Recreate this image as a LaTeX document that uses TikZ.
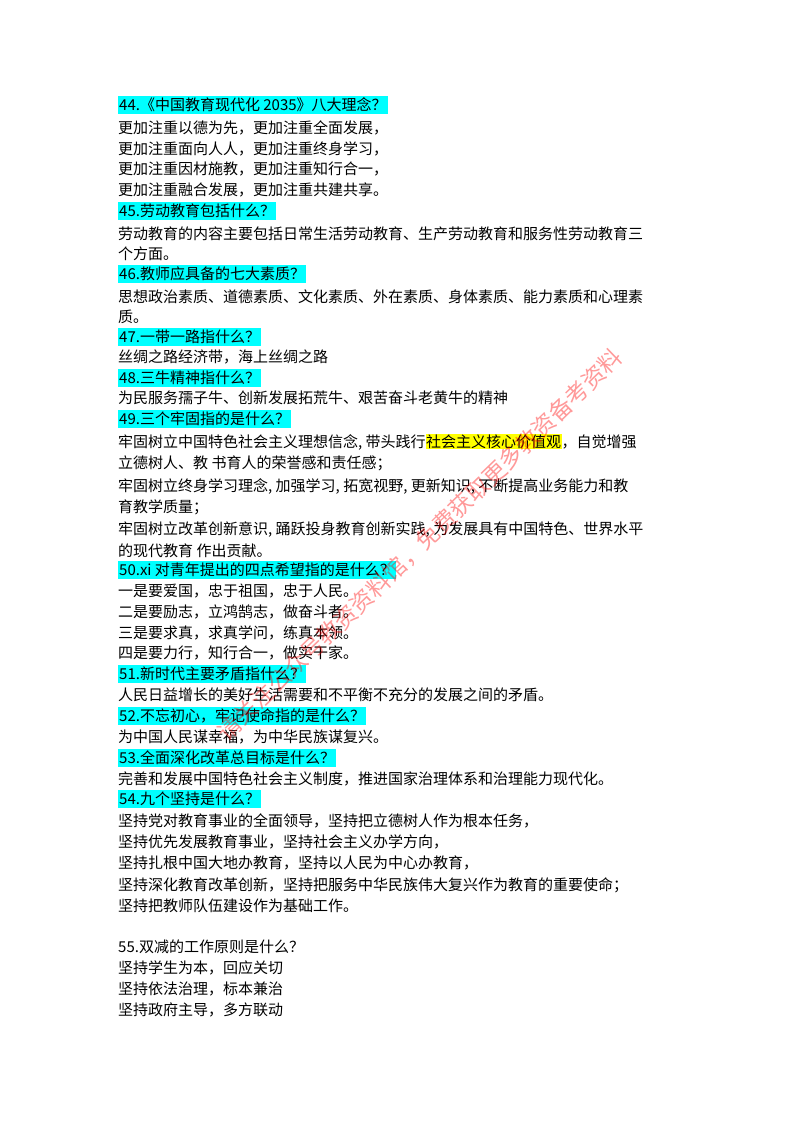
\documentclass[tikz,border=0pt]{standalone}
\usepackage{fontspec}
\setmainfont{Noto Sans CJK SC}
\usepackage{xcolor}
\definecolor{hl}{HTML}{00FFFF}
\definecolor{hy}{HTML}{FFFF00}
\begin{document}
\begin{tikzpicture}[x=1pt,y=-1pt,
  t/.style={anchor=west,inner sep=0pt,font=\fontsize{15}{15}\selectfont},
  h/.style={t,fill=hl,inner ysep=2pt,inner xsep=1pt},
  wm/.style={text=red,opacity=0.4,font=\fontsize{23}{23}\selectfont,rotate=44}]
\useasboundingbox (0,0) rectangle (800,1132);
\fill[white] (0,0) rectangle (800,1132);
\setlength\fboxsep{0.5pt}
\node[h] (q44) at (118,105) {44.《中国教育现代化 2035》八大理念？};
\node[t] (a44a) at (118,128) {更加注重以德为先，更加注重全面发展，};
\node[t] (a44b) at (118,149) {更加注重面向人人，更加注重终身学习，};
\node[t] (a44c) at (118,169) {更加注重因材施教，更加注重知行合一，};
\node[t] (a44d) at (118,190) {更加注重融合发展，更加注重共建共享。};
\node[h] (q45) at (118,211) {45.劳动教育包括什么？};
\node[t] (a45a) at (118,234) {劳动教育的内容主要包括日常生活劳动教育、生产劳动教育和服务性劳动教育三};
\node[t] (a45b) at (118,254) {个方面。};
\node[h] (q46) at (118,274) {46.教师应具备的七大素质？};
\node[t] (a46a) at (118,297) {思想政治素质、道德素质、文化素质、外在素质、身体素质、能力素质和心理素};
\node[t] (a46b) at (118,317) {质。};
\node[h] (q47) at (118,337) {47.一带一路指什么？};
\node[t] (a47) at (118,357) {丝绸之路经济带，海上丝绸之路};
\node[h] (q48) at (118,378) {48.三牛精神指什么？};
\node[t] (a48) at (118,398) {为民服务孺子牛、创新发展拓荒牛、艰苦奋斗老黄牛的精神};
\node[h] (q49) at (118,419) {49.三个牢固指的是什么？};
\node[t] (a49a) at (118,442) {牢固树立中国特色社会主义理想信念, 带头践行\colorbox{hy}{社会主义核心价值观}，自觉增强};
\node[t] (a49b) at (118,463) {立德树人、教 书育人的荣誉感和责任感；};
\node[t] (a49c) at (118,486) {牢固树立终身学习理念, 加强学习, 拓宽视野, 更新知识, 不断提高业务能力和教};
\node[t] (a49d) at (118,507) {育教学质量；};
\node[t] (a49e) at (118,530) {牢固树立改革创新意识, 踊跃投身教育创新实践, 为发展具有中国特色、世界水平};
\node[t] (a49f) at (118,551) {的现代教育 作出贡献。};
\node[h] (q50) at (118,570) {50.xi 对青年提出的四点希望指的是什么？};
\node[t] (a50a) at (118,591) {一是要爱国，忠于祖国，忠于人民。};
\node[t] (a50b) at (118,612) {二是要励志，立鸿鹄志，做奋斗者。};
\node[t] (a50c) at (118,633) {三是要求真，求真学问，练真本领。};
\node[t] (a50d) at (118,653) {四是要力行，知行合一，做实干家。};
\node[h] (q51) at (118,674) {51.新时代主要矛盾指什么？};
\node[t] (a51) at (118,695) {人民日益增长的美好生活需要和不平衡不充分的发展之间的矛盾。};
\node[h] (q52) at (118,716) {52.不忘初心，牢记使命指的是什么？};
\node[t] (a52) at (118,737) {为中国人民谋幸福，为中华民族谋复兴。};
\node[h] (q53) at (118,758) {53.全面深化改革总目标是什么？};
\node[t] (a53) at (118,779) {完善和发展中国特色社会主义制度，推进国家治理体系和治理能力现代化。};
\node[h] (q54) at (118,799) {54.九个坚持是什么？};
\node[t] (a54a) at (118,821) {坚持党对教育事业的全面领导，坚持把立德树人作为根本任务，};
\node[t] (a54b) at (118,842) {坚持优先发展教育事业，坚持社会主义办学方向，};
\node[t] (a54c) at (118,863) {坚持扎根中国大地办教育，坚持以人民为中心办教育，};
\node[t] (a54d) at (118,885) {坚持深化教育改革创新，坚持把服务中华民族伟大复兴作为教育的重要使命；};
\node[t] (a54e) at (118,906) {坚持把教师队伍建设作为基础工作。};
\node[t] (q55) at (118,947) {55.双减的工作原则是什么？};
\node[t] (a55a) at (118,968) {坚持学生为本，回应关切};
\node[t] (a55b) at (118,989) {坚持依法治理，标本兼治};
\node[t] (a55c) at (118,1010) {坚持政府主导，多方联动};
\node[wm] (wm) at (420,545) {请关注公众号教资资料馆，免费获取更多教资备考资料};
\end{tikzpicture}
\end{document}
